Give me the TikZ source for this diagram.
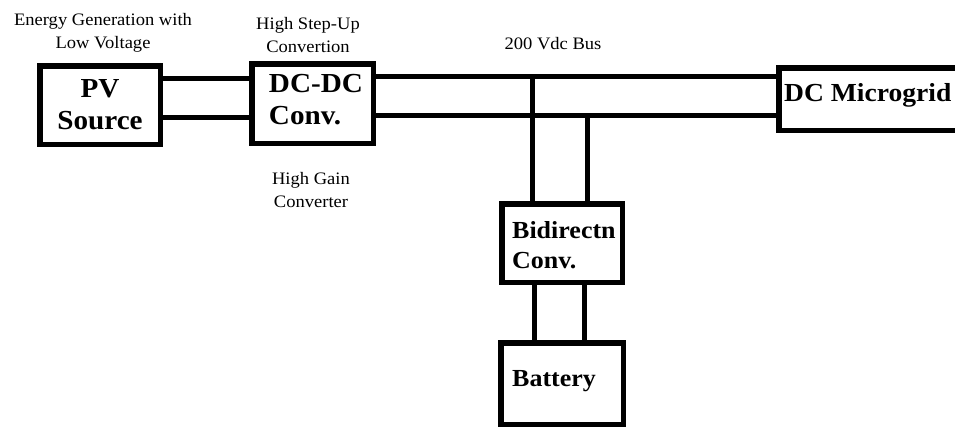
\documentclass[tikz,border=0pt]{standalone}
\usepackage{fontspec}
\setmainfont{Liberation Serif}[FakeStretch=1.06]

\begin{document}
\begin{tikzpicture}[x=1pt,y=-1pt,
    blk/.style={draw,line width=5.5pt,inner sep=0pt},
    wire/.style={line width=5pt},
    blktxt/.style={font=\bfseries\fontsize{27.5}{32}\selectfont,align=left,inner sep=0pt},
    note/.style={font=\fontsize{17.5}{23}\selectfont,align=center,inner sep=0pt}]
      \useasboundingbox (0,0) rectangle (955,428);
      \node[blk,minimum width=120.5pt,minimum height=78.5pt] (pv) at (100,105) {};
      \node[blktxt,align=center] (pvtxt) at (pv) {PV\\Source};
      \node[blk,minimum width=121.5pt,minimum height=79.5pt] (dcdc) at (312.5,103.5) {};
      \node[blktxt,anchor=west] (dcdctxt) at ([xshift=19.75pt,yshift=3.5pt]dcdc.west) {DC-DC\\Conv.};
      \node[blk,minimum width=218.5pt,minimum height=62.5pt] (micro) at (888,99) {};
      \node[blktxt,font=\bfseries\fontsize{26}{32}\selectfont,anchor=west] (microtxt) at ([xshift=8pt,yshift=4pt]micro.west) {DC Microgrid};
      \node[blk,minimum width=120.5pt,minimum height=78.5pt] (bidir) at (562,243) {};
      \node[blktxt,font=\bfseries\fontsize{24.5}{29.5}\selectfont,anchor=west] (bidirtxt) at ([xshift=13pt,yshift=-2pt]bidir.west) {Bidirectn\\Conv.};
      \node[blk,minimum width=122.5pt,minimum height=81.5pt] (batt) at (562,383.5) {};
      \node[blktxt,font=\bfseries\fontsize{24.5}{29.5}\selectfont,anchor=west] (batttxt) at ([xshift=14pt,yshift=2pt]batt.west) {Battery};
      \draw[wire] ([yshift=27pt]pv.east) -- ([yshift=27pt]pv.east -| dcdc.west);
      \draw[wire] ([yshift=-12pt]pv.east) -- ([yshift=-12pt]pv.east -| dcdc.west);
      \coordinate (busP) at ([yshift=27.5pt]dcdc.east);
      \coordinate (busN) at ([yshift=-11.5pt]dcdc.east);
      \draw[wire] (busP) -- (busP -| micro.west);
      \draw[wire] (busN) -- (busN -| micro.west);
      \draw[wire] ([xshift=-30pt]bidir.north) -- ([xshift=-30pt]bidir.north |- busP);
      \draw[wire] ([xshift=25pt]bidir.north) -- ([xshift=25pt]bidir.north |- busN);
      \draw[wire] ([xshift=-28pt]bidir.south) -- ([xshift=-28pt]bidir.south |- batt.north);
      \draw[wire] ([xshift=22pt]bidir.south) -- ([xshift=22pt]bidir.south |- batt.north);
      \node[note] (gen) at (103,33) {Energy Generation with\\Low Voltage};
      \node[note] (step) at (308,35) {High Step-Up\\Convertion};
      \node[note] (gain) at (311,190) {High Gain\\Converter};
      \node[note,anchor=base] (bus) at (553,49) {200 Vdc Bus};
\end{tikzpicture}
\end{document}
